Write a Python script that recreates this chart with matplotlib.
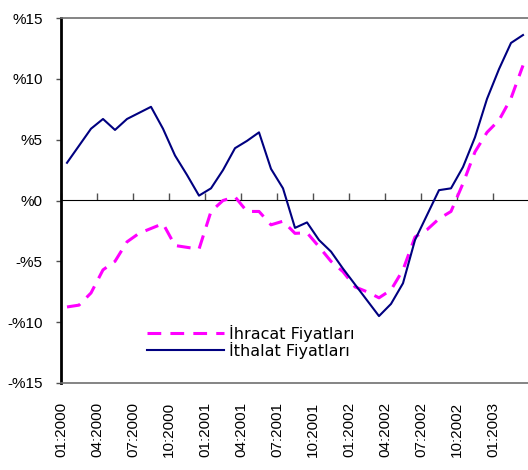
import matplotlib
matplotlib.use("Agg")
import matplotlib.pyplot as plt
import numpy as np

# monthly % change, 01:2000 .. 03:2003
ihracat = [-8.75, -8.6, -7.6, -5.7, -5.0, -3.4, -2.7, -2.3, -1.9, -3.7,
           -3.85, -4.0, -0.9, 0.0, 0.3, -0.9, -0.9, -2.0, -1.7, -2.7,
           -2.65, -3.8, -5.0, -5.85, -7.1, -7.5, -8.0, -7.35, -5.7, -3.0,
           -2.4, -1.5, -0.9, 1.4, 4.0, 5.6, 6.6, 8.4, 11.1]
ithalat = [3.1, 4.5, 5.9, 6.7, 5.8, 6.7, 7.2, 7.7, 5.9, 3.7,
           2.1, 0.4, 1.0, 2.5, 4.3, 4.9, 5.6, 2.6, 1.0, -2.25,
           -1.8, -3.25, -4.2, -5.6, -6.9, -8.2, -9.5, -8.5, -6.8, -3.25,
           -1.2, 0.85, 1.0, 2.75, 5.2, 8.35, 10.8, 12.95, 13.6]
x_labels = ["01:2000", "04:2000", "07:2000", "10:2000", "01:2001", "04:2001",
            "07:2001", "10:2001", "01:2002", "04:2002", "07:2002", "10:2002",
            "01:2003"]
y_ticks = [-15, -10, -5, 0, 5, 10, 15]
y_labels = ["-%15", "-%10", "-%5", "%0", "%5", "%10", "%15"]

fig = plt.figure(figsize=(5.28, 4.70), dpi=100)
ax = fig.add_axes([61 / 528, 1 - 383 / 470, 468 / 528, 365 / 470])

x = np.arange(len(ithalat)) + 0.5
ax.plot(x, ihracat, color="#FF00FF", lw=2.2, dashes=(4.5, 3),
        label="İhracat Fiyatları")
ax.plot(x, ithalat, color="#000080", lw=1.5, label="İthalat Fiyatları")

ax.set_xlim(0, 39)
ax.set_ylim(-15, 15)

# bottom axis: labels only
ax.set_xticks(np.arange(0, 39, 3))
ax.set_xticklabels(x_labels, rotation=90, fontsize=11, family="Liberation Sans")
ax.tick_params(axis="x", length=0, pad=13.5)

ax.set_yticks(y_ticks)
ax.set_yticklabels(y_labels, fontsize=11, family="Liberation Sans")
ax.tick_params(axis="y", length=3.6, width=1, pad=9.5, colors="#505050",
               labelcolor="black")

for side in ["top", "bottom"]:
    ax.spines[side].set_color("#707070")
    ax.spines[side].set_linewidth(1.2)
ax.spines["right"].set_visible(False)
ax.spines["left"].set_color("black")
ax.spines["left"].set_linewidth(2)

# zero line with tick marks
zero = ax.secondary_xaxis(0.5)
zero.set_xticks(np.arange(0, 39, 3))
zero.set_xticklabels([])
zero.tick_params(axis="x", direction="out", length=5, width=1, colors="#505050")
zero.spines["bottom"].set_color("#707070")
zero.spines["bottom"].set_linewidth(1.2)

ax.legend(loc="center left", bbox_to_anchor=((147 - 61) / 468, (383 - 342) / 365),
          frameon=False, handlelength=4.8, handletextpad=0.35, labelspacing=0.0,
          borderpad=0, borderaxespad=0, prop={"family": "DejaVu Sans", "size": 11.5})

fig.savefig("out.png", dpi=100)
